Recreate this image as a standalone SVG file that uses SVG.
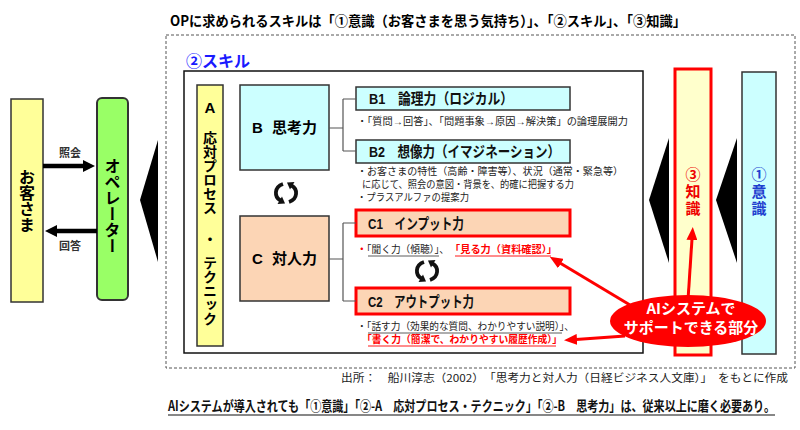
<svg xmlns="http://www.w3.org/2000/svg" width="800" height="430" viewBox="0 0 800 430">
<style>
.jp { font-family: "Noto Sans CJK JP", "Liberation Sans", sans-serif; }
.lat { font-family: "Liberation Sans", "Noto Sans CJK JP", sans-serif; }
.b { font-weight: bold; }
.box { stroke: #333; stroke-width: 1.5; }
.cyan { fill: #ccffff; }
.peach { fill: #fcd5b5; }
.redbox { stroke: #ff0000; stroke-width: 3; }
.conn { fill: none; stroke: #555; stroke-width: 1.2; }
.desc { font-size: 10px; fill: #222; font-family: "Liberation Sans", "Noto Sans CJK JP", sans-serif; }
.red { fill: #ff0000; }
.ttl { font-size: 15px; font-weight: bold; fill: #111; }
.rarrow { stroke: #ff0000; stroke-width: 3; }
</style>
<defs>
  <marker id="blkHead" markerUnits="userSpaceOnUse" markerWidth="12" markerHeight="12" viewBox="0 0 12 12" refX="1" refY="6" orient="auto">
    <path d="M0,0 L12,6 L0,12 z" fill="#000"/>
  </marker>
  <marker id="redHead" markerUnits="userSpaceOnUse" markerWidth="13" markerHeight="11" viewBox="0 0 13 11" refX="1" refY="5.5" orient="auto">
    <path d="M0,0 L13,5.5 L0,11 z" fill="#ff0000"/>
  </marker>
  <g id="cycle">
    <path d="M-3,-9 C-12,-6 -12,4 -5.5,7.5" fill="none" stroke="#111" stroke-width="3.8"/>
    <polygon points="-1,10.5 -8.5,11 -4,3.5" fill="#111"/>
    <path d="M3,9 C12,6 12,-4 5.5,-7.5" fill="none" stroke="#111" stroke-width="3.8"/>
    <polygon points="1,-10.5 8.5,-11 4,-3.5" fill="#111"/>
  </g>
</defs>

<!-- Title -->
<text id="title" x="170" y="26" font-size="14" class="jp b" textLength="516" lengthAdjust="spacingAndGlyphs">OPに求められるスキルは「①意識（お客さまを思う気持ち）」、「②スキル」、「③知識」</text>

<!-- dashed frame -->
<rect id="frame" x="166" y="35" width="629" height="333" fill="none" stroke="#555" stroke-width="1" stroke-dasharray="3,2"/>

<!-- Customer -->
<g id="customer">
  <rect x="11" y="99" width="32" height="203" fill="#ffff99" class="box"/>
  <text x="27" y="201" font-size="16" class="jp b" writing-mode="vertical-rl" text-anchor="middle">お客さま</text>
</g>

<!-- Operator -->
<g id="operator">
  <rect x="97" y="98" width="31" height="202" rx="5" fill="#99ff66" stroke="#333" stroke-width="2"/>
  <text x="112.5" y="206" font-size="16" class="jp b" writing-mode="vertical-rl" text-anchor="middle">オペレーター</text>
</g>

<!-- Skill area -->
<g id="skill">
  <text x="186" y="67" font-size="16" class="jp b" fill="#1a1aff">②スキル</text>
  <rect x="184" y="71" width="459" height="282" fill="#fff" stroke="#111" stroke-width="1.5"/>
</g>

<g id="nodeA">
  <rect x="197" y="85" width="26" height="261" fill="#ffff99" class="box"/>
  <text x="210" y="113" font-size="15" class="lat b" text-anchor="middle">A</text>
  <text x="210" y="131" font-size="14" class="jp b" writing-mode="vertical-rl">応対プロセス</text>
  <text x="210" y="238" font-size="14" class="jp b" text-anchor="middle" dominant-baseline="central">・</text>
  <text x="210" y="256" font-size="14" class="jp b" writing-mode="vertical-rl">テクニック</text>
</g>

<g id="nodeB">
  <rect x="240" y="85" width="89" height="85" class="box cyan"/>
  <text x="284.5" y="133" font-size="15" class="lat b" text-anchor="middle"><tspan>B</tspan><tspan dx="9">思考力</tspan></text>
</g>

<g id="nodeC">
  <rect x="240" y="216" width="89" height="85" class="box peach"/>
  <text x="284.5" y="264" font-size="15" class="lat b" text-anchor="middle"><tspan>C</tspan><tspan dx="9">対人力</tspan></text>
</g>

<g id="nodeB1">
  <rect x="356" y="87" width="214" height="23" class="box cyan"/>
  <text x="369" y="104" class="lat ttl" textLength="144" lengthAdjust="spacingAndGlyphs">B1　論理力（ロジカル）</text>
  <text x="357" y="125" class="desc" textLength="271" lengthAdjust="spacingAndGlyphs">・「質問→回答」、「問題事象→原因→解決策」の論理展開力</text>
</g>

<g id="nodeB2">
  <rect x="356" y="140" width="214" height="23" class="box cyan"/>
  <text x="369" y="157" class="lat ttl" textLength="191" lengthAdjust="spacingAndGlyphs">B2　想像力（イマジネーション）</text>
  <text class="desc"><tspan x="357" y="175" textLength="266" lengthAdjust="spacingAndGlyphs">・お客さまの特性（高齢・障害等）、状況（通常・緊急等）</tspan><tspan x="362" y="188" textLength="212" lengthAdjust="spacingAndGlyphs">に応じて、照会の意図・背景を、的確に把握する力</tspan><tspan x="357" y="201" textLength="112" lengthAdjust="spacingAndGlyphs">・プラスアルファの提案力</tspan></text>
</g>

<g id="nodeC1">
  <rect x="356" y="210" width="214" height="26" class="peach redbox"/>
  <text x="368" y="229" class="lat ttl" textLength="96" lengthAdjust="spacingAndGlyphs">C1　インプット力</text>
  <text x="357" y="253" class="desc" textLength="92" lengthAdjust="spacingAndGlyphs"><tspan class="red b">・</tspan>「聞く力（傾聴）」、</text>
  <line x1="368" y1="256" x2="439" y2="256" stroke="#333" stroke-width="0.8"/>
  <text x="450" y="253" class="desc red b" textLength="107" lengthAdjust="spacingAndGlyphs">「見る力（資料確認）」</text>
  <line x1="455" y1="256" x2="551" y2="256" stroke="#ff0000" stroke-width="0.9"/>
</g>

<g id="nodeC2">
  <rect x="356" y="288" width="214" height="26" class="peach redbox"/>
  <text x="368" y="307" class="lat ttl" textLength="106" lengthAdjust="spacingAndGlyphs">C2　アウトプット力</text>
  <text class="desc"><tspan x="357" y="330" textLength="217" lengthAdjust="spacingAndGlyphs">・「話す力（効果的な質問、わかりやすい説明）」、</tspan><tspan x="362" y="343" class="red b" textLength="200" lengthAdjust="spacingAndGlyphs">「書く力（簡潔で、わかりやすい履歴作成）」</tspan></text>
  <line x1="368" y1="333" x2="562" y2="333" stroke="#333" stroke-width="0.8"/>
  <line x1="368" y1="346" x2="556" y2="346" stroke="#ff0000" stroke-width="0.9"/>
</g>

<g id="knowledge">
  <rect x="675" y="69" width="36" height="286" fill="#ffffcc" class="redbox"/>
  <text x="693" y="192" font-size="15" class="jp b" fill="#ee0000" writing-mode="vertical-rl" text-anchor="middle" letter-spacing="2">③知識</text>
</g>

<g id="consciousness">
  <rect x="742" y="72" width="34" height="282" class="box cyan"/>
  <text x="759" y="192" font-size="15" class="jp b" fill="#1f3fcf" writing-mode="vertical-rl" text-anchor="middle" letter-spacing="2">①意識</text>
</g>

<!-- connectors -->
<g id="connectors">
  <line x1="43" y1="166" x2="84" y2="166" stroke="#000" stroke-width="4.5" marker-end="url(#blkHead)"/>
  <text x="70" y="157" font-size="11" class="jp b" fill="#333" text-anchor="middle">照会</text>
  <line x1="97" y1="231" x2="56" y2="231" stroke="#000" stroke-width="4.5" marker-end="url(#blkHead)"/>
  <text x="70" y="250" font-size="11" class="jp b" fill="#333" text-anchor="middle">回答</text>

  <polygon points="140,200 158,140 158,262" fill="#000"/>
  <polygon points="649,200 669,138 669,263" fill="#000"/>
  <polygon points="716,200 737,138 737,263" fill="#000"/>

  <path class="conn" d="M329,128 H343 M343,99 V151 M343,99 H356 M343,151 H356"/>
  <path class="conn" d="M329,259 H343 M343,223 V301 M343,223 H356 M343,301 H356"/>

  <use href="#cycle" x="286" y="193"/>
  <use href="#cycle" x="427" y="271"/>

  <line x1="630" y1="305" x2="560" y2="263" class="rarrow" marker-end="url(#redHead)"/>
  <line x1="688" y1="300" x2="692" y2="239" class="rarrow" marker-end="url(#redHead)"/>
  <line x1="625" y1="336" x2="576" y2="339.5" class="rarrow" marker-end="url(#redHead)"/>
</g>

<g id="aiSupport">
  <ellipse cx="688" cy="321" rx="78" ry="26" fill="#ff0000"/>
  <text x="691" y="314" font-size="15" class="jp b" fill="#fff" text-anchor="middle">AIシステムで</text>
  <text x="691" y="333" font-size="15" class="jp b" fill="#fff" text-anchor="middle">サポートできる部分</text>
</g>

<text id="source" x="341" y="382" font-size="11" class="jp" fill="#222" textLength="447" lengthAdjust="spacingAndGlyphs">出所：　船川淳志（2002）　「思考力と対人力（日経ビジネス人文庫）」　をもとに作成</text>

<g id="conclusion">
  <text transform="translate(168,411) scale(1,1.25)" x="0" y="0" font-size="11" class="jp b" fill="#111" textLength="607" lengthAdjust="spacingAndGlyphs">AIシステムが導入されても「①意識」「②-A　応対プロセス・テクニック」「②-B　思考力」は、従来以上に磨く必要あり。</text>
  <line x1="168" y1="415" x2="775" y2="415" stroke="#111" stroke-width="1.2"/>
</g>
</svg>
